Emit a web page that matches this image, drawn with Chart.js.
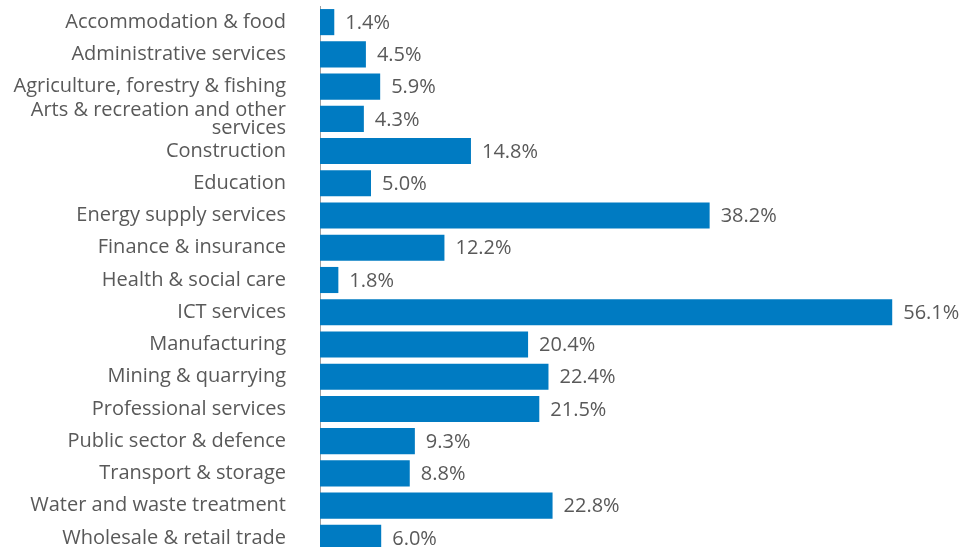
<!DOCTYPE html>
<html>
<head>
<meta charset="utf-8">
<script src="https://cdn.jsdelivr.net/npm/chart.js@4"></script>
<style>
  html, body { margin: 0; padding: 0; background: #fff; overflow: hidden; }
  #wrap { width: 961px; height: 554px; position: relative; }
</style>
</head>
<body>
<div id="wrap"><canvas id="grafico"></canvas></div>
<script>
// Dados do gráfico
const categorias = [
    'Accommodation & food',
    'Administrative services',
    'Agriculture, forestry & fishing',
    ['Arts & recreation and other', 'services'],
    'Construction',
    'Education',
    'Energy supply services',
    'Finance & insurance',
    'Health & social care',
    'ICT services',
    'Manufacturing',
    'Mining & quarrying',
    'Professional services',
    'Public sector & defence',
    'Transport & storage',
    'Water and waste treatment',
    'Wholesale & retail trade'
];
const valores = [1.4, 4.5, 5.9, 4.3, 14.8, 5.0, 38.2, 12.2, 1.8, 56.1, 20.4, 22.4, 21.5, 9.3, 8.8, 22.8, 6.0];

const corBarra = '#007bc2';
const corTexto = '#595959';

// Plugin simples para escrever os valores ao lado das barras
const rotulosValores = {
    id: 'rotulosValores',
    afterDatasetsDraw(chart) {
        const ctx = chart.ctx;
        const meta = chart.getDatasetMeta(0);
        ctx.save();
        ctx.font = '20px "Open Sans"';
        ctx.fillStyle = corTexto;
        ctx.textBaseline = 'middle';
        ctx.textAlign = 'left';
        meta.data.forEach((barra, i) => {
            ctx.fillText(valores[i].toFixed(1) + '%', barra.x + 11, barra.y + 1);
        });
        ctx.restore();
    }
};

new Chart(document.getElementById('grafico').getContext('2d'), {
    type: 'bar',
    data: {
        labels: categorias,
        datasets: [{
            data: valores,
            backgroundColor: corBarra,
            barPercentage: 0.9,
            categoryPercentage: 0.9
        }]
    },
    options: {
        indexAxis: 'y',
        responsive: true,
        maintainAspectRatio: false,
        animation: false,
        layout: { padding: { top: 6, right: 29, bottom: 0, left: 0 } },
        plugins: {
            legend: { display: false },
            tooltip: { enabled: false }
        },
        scales: {
            x: {
                display: false,
                min: 0,
                max: 60
            },
            y: {
                afterFit(scale) {
                    scale.width = 320;
                    scale.paddingTop = 0;
                    scale.paddingBottom = 0;
                },
                grid: { display: false, drawTicks: false },
                border: { display: true, color: '#a0a0a0', width: 1 },
                ticks: {
                    autoSkip: false,
                    padding: 34,
                    color: corTexto,
                    font: { family: 'Open Sans', size: 20, lineHeight: 0.9 }
                }
            }
        }
    },
    plugins: [rotulosValores]
});
</script>
</body>
</html>
